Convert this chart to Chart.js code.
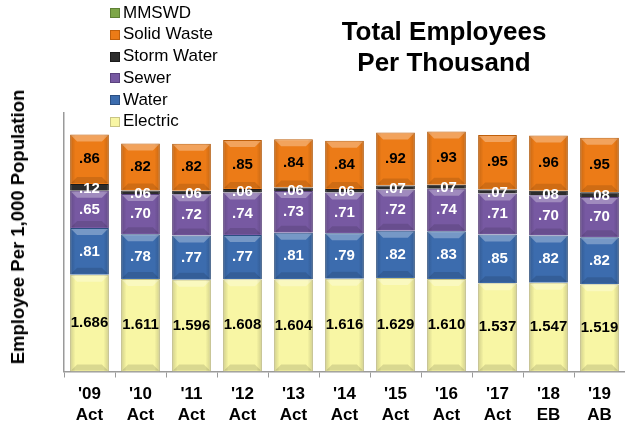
<!DOCTYPE html>
<html>
<head>
<meta charset="utf-8">
<script src="https://cdn.jsdelivr.net/npm/chart.js@4"></script>
<style>
  html, body { margin: 0; padding: 0; background: #fff; }
  #wrap { position: relative; width: 625px; height: 429px; font-family: "Liberation Sans", Arial, sans-serif; }
  #c { position: absolute; left: 0; top: 0; }
  #title { position: absolute; left: 304px; width: 280px; top: 16px; text-align: center; font-weight: bold; font-size: 26px; line-height: 31px; color: #000; }
  #legend { position: absolute; left: 110px; top: 1.5px; }
  .li { height: 21.8px; line-height: 21.8px; font-size: 17px; color: #000; white-space: nowrap; }
  .sw { display: inline-block; width: 10px; height: 10px; margin-right: 3px; vertical-align: -0.5px; box-sizing: border-box; }
  #ytitle { position: absolute; left: 17.5px; top: 227px; width: 0; height: 0; }
  #ytitle span { position: absolute; left: 0; top: 0; transform: translate(-50%, -50%) rotate(-90deg); white-space: nowrap; font-weight: bold; font-size: 18.5px; line-height: 20px; color: #000; }
</style>
</head>
<body>
<div id="wrap">
  <canvas id="c" width="625" height="429"></canvas>
  <div id="legend"></div>
  <div id="title">Total Employees<br>Per Thousand</div>
  <div id="ytitle"><span>Employee Per 1,000 Population</span></div>
</div>
<script>
// ---- data ----
const categories = [["'09","Act"],["'10","Act"],["'11","Act"],["'12","Act"],["'13","Act"],["'14","Act"],["'15","Act"],["'16","Act"],["'17","Act"],["'18","EB"],["'19","AB"]];
const electric   = [1.686, 1.611, 1.596, 1.608, 1.604, 1.616, 1.629, 1.610, 1.537, 1.547, 1.519];
const water      = [0.81, 0.78, 0.77, 0.77, 0.81, 0.79, 0.82, 0.83, 0.85, 0.82, 0.82];
const sewer      = [0.65, 0.70, 0.72, 0.74, 0.73, 0.71, 0.72, 0.74, 0.71, 0.70, 0.70];
const stormWater = [0.12, 0.06, 0.06, 0.06, 0.06, 0.06, 0.07, 0.07, 0.07, 0.08, 0.08];
const solidWaste = [0.86, 0.82, 0.82, 0.85, 0.84, 0.84, 0.92, 0.93, 0.95, 0.96, 0.95];
const mmswd      = [null, null, null, null, null, null, null, null, null, null, null];
const seriesNames = ["Electric", "Water", "Sewer", "Storm Water", "Solid Waste", "MMSWD"];
const decimals    = [3, 2, 2, 2, 2, 2];

// ---- styles ----
const fills   = ["#f8f6a4", "#3c6cae", "#7759a2", "#2c2c2c", "#ec7b17", "#7da647"];
const borders = ["#c9c585", "#2b4f82", "#5b427f", "#1a1a1a", "#c0600c", "#5e8034"];
const labelColors = ["#000", "#fff", "#fff", "#fff", "#000", "#000"];

// legend (top-down order as in the reference)
const legendEl = document.getElementById('legend');
[5,4,3,2,1,0].forEach(i => {
  const d = document.createElement('div');
  d.className = 'li';
  d.innerHTML = '<span class="sw" style="background:' + fills[i] + ';border:1px solid ' + borders[i] + '"></span>' + seriesNames[i];
  legendEl.appendChild(d);
});

const allData = [electric, water, sewer, stormWater, solidWaste, mmswd];
const datasets = allData.map((arr, i) => ({
  label: seriesNames[i],
  data: arr,
  backgroundColor: fills[i],
  borderColor: borders[i],
  borderWidth: 1,
  barPercentage: 0.76,
  categoryPercentage: 1.0
}));

function fmt(v, dec) {
  let s = v.toFixed(dec);
  if (v < 1) s = s.replace(/^0/, '');
  return s;
}

const bevelPlugin = {
  id: 'bevel',
  afterDatasetsDraw(chart) {
    const ctx = chart.ctx;
    ctx.save();
    chart.data.datasets.forEach((ds, di) => {
      if (di === 3 || di === 5) return;
      const meta = chart.getDatasetMeta(di);
      meta.data.forEach((bar, i) => {
        if (ds.data[i] == null) return;
        const w = bar.width, l = bar.x - w / 2, r = bar.x + w / 2;
        const t = Math.min(bar.y, bar.base), b = Math.max(bar.y, bar.base);
        const g = ctx.createLinearGradient(l, 0, r, 0);
        g.addColorStop(0, 'rgba(0,0,0,0.16)');
        g.addColorStop(0.14, 'rgba(0,0,0,0)');
        g.addColorStop(0.86, 'rgba(0,0,0,0)');
        g.addColorStop(1, 'rgba(0,0,0,0.16)');
        ctx.fillStyle = g;
        ctx.fillRect(l + 0.5, t + 0.5, w - 1, b - t - 1);
        const bv = Math.min(6, (b - t) / 3);
        ctx.fillStyle = 'rgba(255,255,255,0.30)';
        ctx.beginPath();
        ctx.moveTo(l + 1, t + 1); ctx.lineTo(r - 1, t + 1);
        ctx.lineTo(r - 1 - bv, t + 1 + bv); ctx.lineTo(l + 1 + bv, t + 1 + bv);
        ctx.closePath(); ctx.fill();
        ctx.fillStyle = 'rgba(0,0,0,0.12)';
        ctx.beginPath();
        ctx.moveTo(l + 1, b - 1); ctx.lineTo(r - 1, b - 1);
        ctx.lineTo(r - 1 - bv, b - 1 - bv); ctx.lineTo(l + 1 + bv, b - 1 - bv);
        ctx.closePath(); ctx.fill();
      });
    });
    // value labels
    ctx.textAlign = 'center';
    ctx.textBaseline = 'middle';
    chart.data.datasets.forEach((ds, di) => {
      if (di === 5) return;
      const meta = chart.getDatasetMeta(di);
      meta.data.forEach((bar, i) => {
        const v = ds.data[i];
        if (v == null) return;
        const cy = (bar.y + bar.base) / 2 + (di === 3 ? 1.5 : 0);
        ctx.font = 'bold 15px "Liberation Sans", Arial, sans-serif';
        ctx.fillStyle = labelColors[di];
        ctx.fillText(fmt(v, decimals[di]), bar.x, cy);
      });
    });
    ctx.restore();
  }
};

new Chart(document.getElementById('c'), {
  type: 'bar',
  data: { labels: categories, datasets },
  options: {
    responsive: false,
    animation: false,
    events: [],
    layout: { padding: { left: 56, right: 0, top: 113, bottom: -3 } },
    plugins: { legend: { display: false }, tooltip: { enabled: false }, title: { display: false } },
    scales: {
      x: {
        stacked: true,
        grid: { display: true, drawOnChartArea: false, drawTicks: true, tickLength: 6, color: '#9a9a9a', offset: true },
        border: { display: true, color: '#9a9a9a', width: 1.5 },
        ticks: { color: '#000', font: { family: '"Liberation Sans", Arial, sans-serif', size: 17, weight: 'bold', lineHeight: 1.25 }, padding: 6, maxRotation: 0, autoSkip: false }
      },
      y: {
        stacked: true,
        min: 0,
        max: 4.5,
        grid: { display: false },
        border: { display: true, color: '#9a9a9a', width: 1.5 },
        ticks: { display: false },
        title: { display: false, text: 'Employee Per 1,000 Population' }
      }
    }
  },
  plugins: [bevelPlugin]
});
</script>
</body>
</html>
